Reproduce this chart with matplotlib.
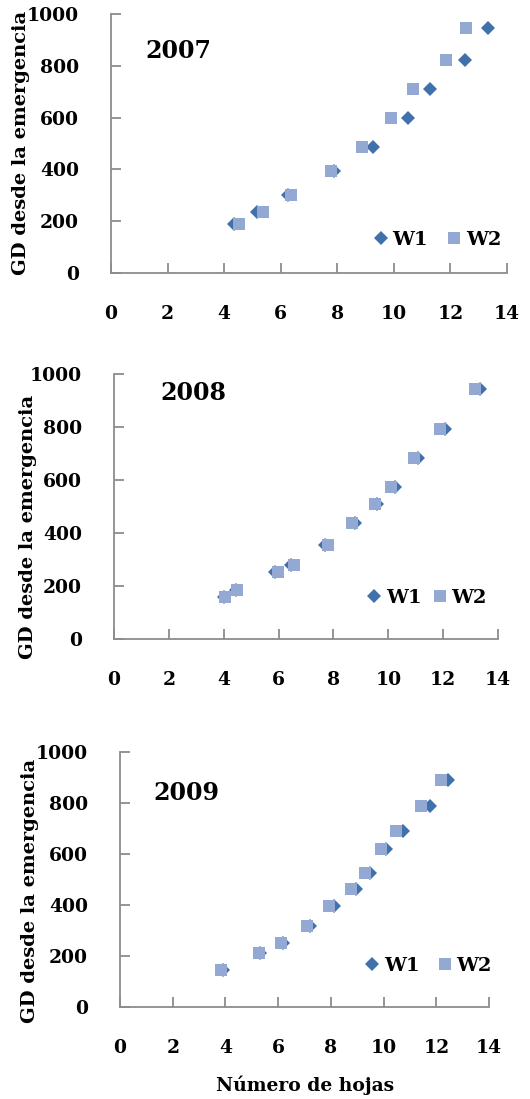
import matplotlib.pyplot as plt
import numpy as np

plt.rcParams['font.family'] = ['DejaVu Serif']
plt.rcParams['font.weight'] = 'bold'

# --- Daten: Número de hojas (x) vs. GD desde la emergencia (y) ---
x_w1_2007 = [4.36, 5.15, 6.24, 7.87, 9.26, 10.51, 11.29, 12.50, 13.33]
x_w2_2007 = [4.52, 5.37, 6.37, 7.78, 8.88, 9.91, 10.66, 11.83, 12.55]
gd_2007 = [191, 236, 303, 392, 488, 597, 709, 822, 945]

x_w1_2008 = [4.00, 4.45, 5.87, 6.45, 7.70, 8.79, 9.59, 10.25, 11.10, 12.08, 13.35]
x_w2_2008 = [4.04, 4.48, 5.99, 6.55, 7.82, 8.67, 9.50, 10.10, 10.93, 11.89, 13.17]
gd_2008 = [158, 185, 253, 278, 353, 438, 508, 574, 682, 791, 945]

x_w1_2009 = [3.90, 5.33, 6.19, 7.20, 8.12, 8.97, 9.50, 10.11, 10.74, 11.75, 12.45]
x_w2_2009 = [3.82, 5.26, 6.10, 7.10, 7.94, 8.77, 9.30, 9.89, 10.49, 11.42, 12.16]
gd_2009 = [147, 210, 252, 317, 397, 464, 524, 621, 691, 790, 892]

paneles = [
    ("2007", x_w1_2007, x_w2_2007, gd_2007),
    ("2008", x_w1_2008, x_w2_2008, gd_2008),
    ("2009", x_w1_2009, x_w2_2009, gd_2009),
]

# Achsenpositionen in Pixeln (links, rechts, oben, unten)
W, H = 530, 1099
cajas = [(111, 507, 14, 273), (114, 498, 374, 639), (120, 489, 752, 1007)]
pos_anio = [(0.088, 0.857), (0.122, 0.928), (0.09, 0.84)]
pos_leyenda = [(0.657, 0.127), (0.652, 0.155), (0.657, 0.161)]
esp_leyenda = [0.85, 0.45, 0.8]
ylab_xy = [(21, 143), (28, 527), (30, 891)]

c_w1 = "#4171AA"
c_w2 = "#93A9D4"
gris = "#8C8C8C"

fig = plt.figure(figsize=(W / 100, H / 100), dpi=100)

for i, (anio, xw1, xw2, gd) in enumerate(paneles):
    l, r, t, b = cajas[i]
    ax = fig.add_axes([l / W, 1 - b / H, (r - l) / W, (b - t) / H])

    ax.plot(xw1, gd, linestyle="none", marker="D", markersize=7.5,
            color=c_w1, markeredgewidth=0, label="W1")
    ax.plot(xw2, gd, linestyle="none", marker="s", markersize=8.5,
            color=c_w2, markeredgewidth=0, label="W2")

    ax.set_xlim(0, 14)
    ax.set_ylim(0, 1000)
    ax.set_xticks(np.arange(0, 15, 2))
    ax.set_yticks(np.arange(0, 1001, 200))

    for s in ["top", "right"]:
        ax.spines[s].set_visible(False)
    for s in ["left", "bottom"]:
        ax.spines[s].set_color(gris)
        ax.spines[s].set_linewidth(1.3)

    ax.tick_params(axis="both", direction="in", length=7, width=1.3,
                   color=gris, labelsize=13.5)
    ax.tick_params(axis="x", pad=23)
    ax.tick_params(axis="y", pad=23)
    for lab in ax.get_xticklabels() + ax.get_yticklabels():
        lab.set_fontweight("bold")

    ax.text(pos_anio[i][0], pos_anio[i][1], anio, transform=ax.transAxes,
            fontsize=17, fontweight="bold", ha="left", va="center")

    fig.text(ylab_xy[i][0] / W, 1 - ylab_xy[i][1] / H, "GD desde la emergencia",
             rotation=90, ha="center", va="center", fontsize=14,
             fontweight="bold")

    ax.legend(loc="center left", bbox_to_anchor=pos_leyenda[i], ncol=2,
              frameon=False, borderpad=0, borderaxespad=0,
              handletextpad=0.1, columnspacing=esp_leyenda[i],
              handlelength=1.0, prop={"size": 14, "weight": "bold"})

fig.text(305 / W, 1 - 1085 / H, "Número de hojas", ha="center", va="center",
         fontsize=13.5, fontweight="bold")

fig.savefig("out.png", dpi=100)
